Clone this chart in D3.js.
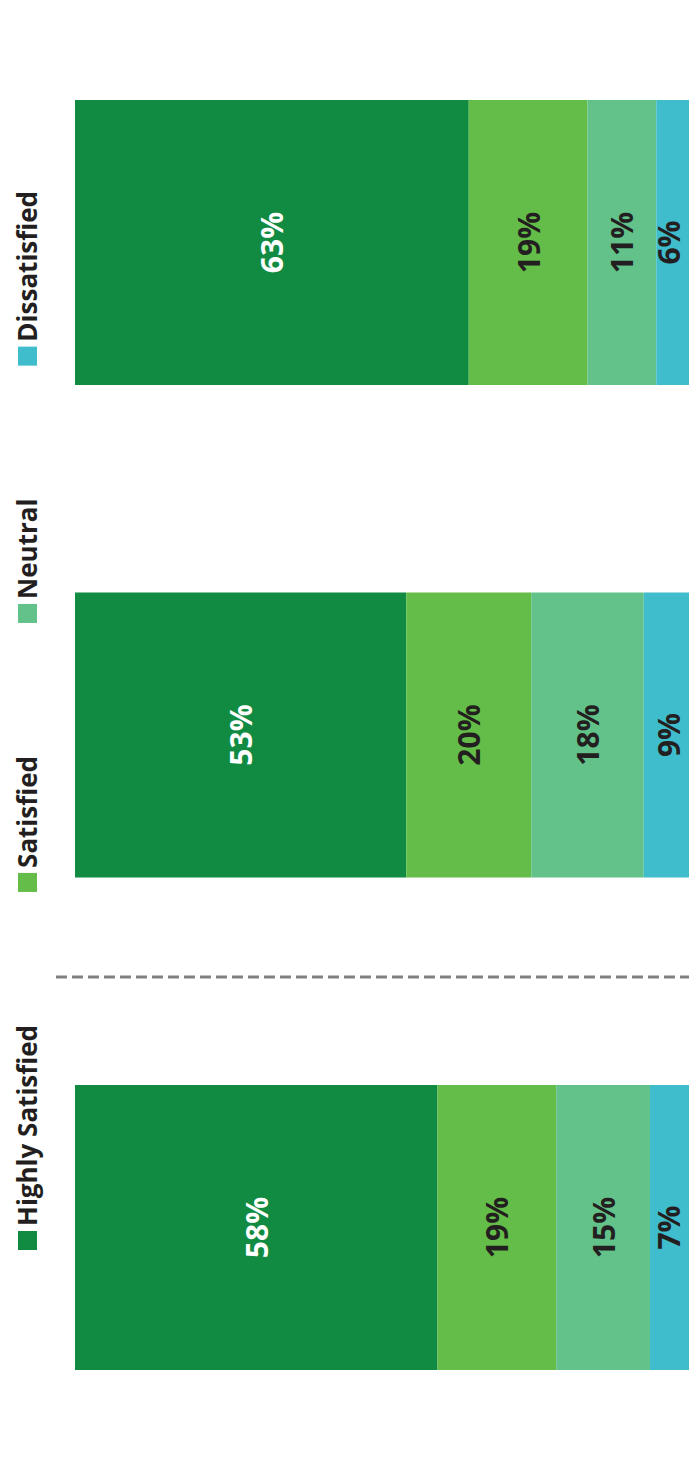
<!DOCTYPE html>
<html>
<head>
<meta charset="utf-8">
<script src="https://cdn.jsdelivr.net/npm/d3@7"></script>
<style>
  html, body { margin: 0; padding: 0; background: #ffffff; }
  svg { display: block; }
</style>
</head>
<body>
<div id="chart"></div>
<script>
// Satisfaction split for three groups, drawn as stacked 100% bars
const groups = ["Group 1", "Group 2", "Group 3"];
const keys = ["Highly Satisfied", "Satisfied", "Neutral", "Dissatisfied"];
const highlySatisfied = [63, 53, 58];
const satisfied = [19, 20, 19];
const neutral = [11, 18, 15];
const dissatisfied = [6, 9, 7];
const colors = ["#118a42", "#63bd48", "#62c28a", "#40bdcd"];

const W = 689, H = 1475;

const rows = groups.map((g, i) => ({
  group: g,
  "Highly Satisfied": highlySatisfied[i],
  "Satisfied": satisfied[i],
  "Neutral": neutral[i],
  "Dissatisfied": dissatisfied[i]
}));

const svg = d3.select("#chart").append("svg")
  .attr("width", W).attr("height", H);

const x = d3.scaleLinear().domain([0, 100]).range([75, 700]);
const y = d3.scaleBand().domain(groups).range([100, 1370])
  .paddingInner(0.4213).paddingOuter(0);
const color = d3.scaleOrdinal().domain(keys).range(colors);

const stacked = d3.stack().keys(keys)(rows);

const layer = svg.append("g").selectAll("g")
  .data(stacked).join("g")
  .attr("fill", d => color(d.key));

layer.selectAll("rect")
  .data(d => d.map(s => ({ s, key: d.key })))
  .join("rect")
  .attr("x", d => x(d.s[0]))
  .attr("y", d => y(d.s.data.group))
  .attr("width", d => x(d.s[1]) - x(d.s[0]))
  .attr("height", y.bandwidth());

// value labels, rotated to read bottom-to-top; kept inside the right edge
const labels = svg.append("g")
  .attr("font-family", "'Open Sans', sans-serif")
  .attr("font-weight", 700)
  .attr("font-size", 30);

stacked.forEach((layerData, li) => {
  layerData.forEach(s => {
    const cx = Math.min((x(s[0]) + x(s[1])) / 2, W - 21);
    const cy = y(s.data.group) + y.bandwidth() / 2;
    labels.append("text")
      .attr("transform", `translate(${cx},${cy}) rotate(-90)`)
      .attr("text-anchor", "middle")
      .attr("dominant-baseline", "central")
      .attr("fill", li === 0 ? "#ffffff" : "#231f20")
      .text(`${s[1] - s[0]}%`);
  });
});

// dashed separator
svg.append("line")
  .attr("x1", 56).attr("x2", W)
  .attr("y1", 977).attr("y2", 977)
  .attr("stroke", "#808080")
  .attr("stroke-width", 3)
  .attr("stroke-dasharray", "11,5");

// legend, flowing upward along the left edge
const legend = svg.append("g")
  .attr("font-family", "'Open Sans', sans-serif")
  .attr("font-weight", 700)
  .attr("font-size", 26)
  .attr("fill", "#231f20");

const sq = 19;
let pos = 1250;
keys.forEach(k => {
  legend.append("rect")
    .attr("x", 18).attr("y", pos - sq)
    .attr("width", sq).attr("height", sq)
    .attr("fill", color(k));
  const t = legend.append("text")
    .attr("transform", `translate(37,${pos - sq - 5}) rotate(-90)`)
    .attr("text-anchor", "start")
    .text(k);
  const len = t.node().getComputedTextLength();
  pos = pos - sq - 5 - len - 133;
});
</script>
</body>
</html>
